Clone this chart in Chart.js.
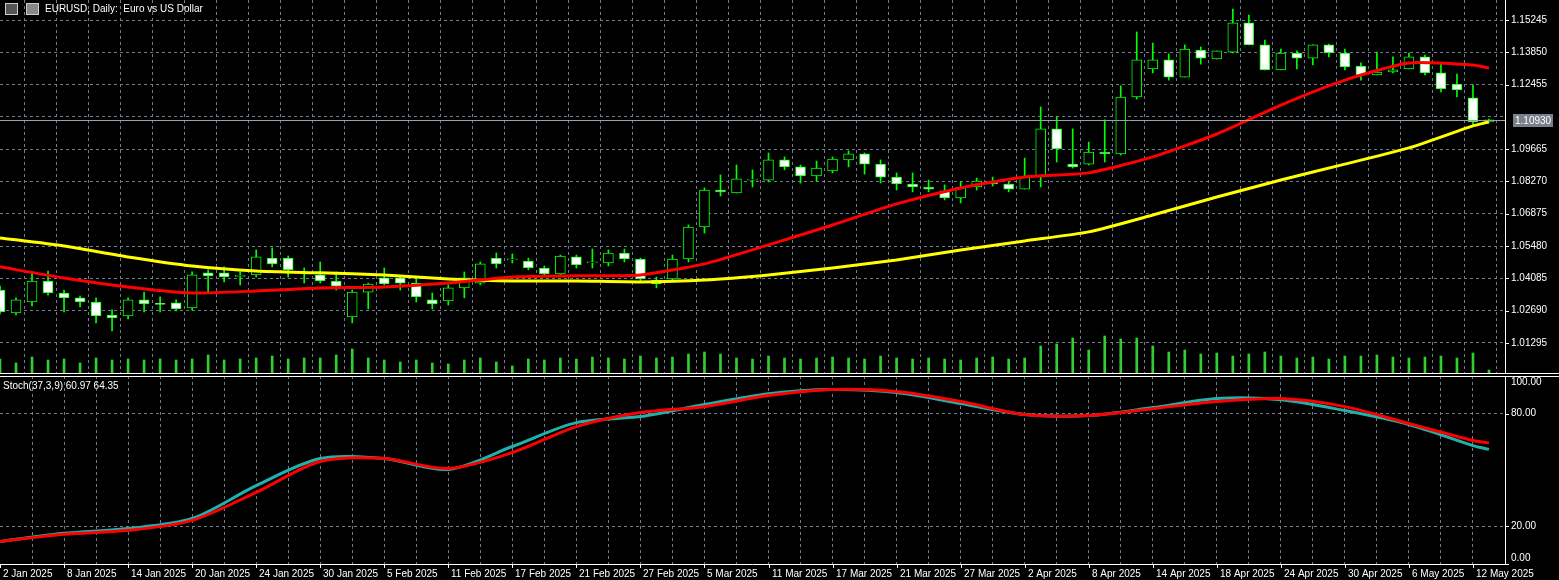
<!DOCTYPE html>
<html>
<head>
<meta charset="utf-8">
<script src="https://cdn.jsdelivr.net/npm/chart.js@4"></script>
<style>
  html, body { margin: 0; padding: 0; background: #000; overflow: hidden; }
  #wrap { position: relative; width: 1559px; height: 580px; background: #000; }
  canvas { position: absolute; left: 0; }
  #main { top: 0; }
  #stoch { top: 376px; }
  .lbl { position: absolute; color: #fff; font: 10px "Liberation Sans", sans-serif; white-space: pre; }
  .ico { position: absolute; top: 3px; width: 11px; height: 10px; border: 1px solid #ccc; background: #555; }
</style>
</head>
<body>
<div id="wrap">
  <canvas id="main" width="1559" height="374"></canvas>
  <canvas id="stoch" width="1559" height="204"></canvas>
  <div class="ico" style="left:5px"></div>
  <div class="ico" style="left:26px;background:#888"></div>
  <div class="lbl" style="left:45px;top:3px">EURUSD, Daily:  Euro vs US Dollar</div>
  <div class="lbl" style="left:3px;top:380px">Stoch(37,3,9) 60.97 64.35</div>
</div>
<script>
// === DATA ===
const OPEN = [1.0358,1.0259,1.0306,1.0397,1.0345,1.0324,1.0306,1.0250,1.0246,1.0315,1.0298,1.0302,1.0280,1.0432,1.0432,1.0417,1.0423,1.0496,1.0496,1.0432,
  1.0423,1.0397,1.0242,1.0349,1.0410,1.0410,1.0388,1.0315,1.0311,1.0367,1.0388,1.0496,1.0488,1.0483,1.0453,1.0427,1.0501,1.0475,1.0475,1.0518,
  1.0492,1.0401,1.0406,1.0492,1.0630,1.0790,1.0777,1.0833,1.0833,1.0920,1.0890,1.0851,1.0872,1.0920,1.0946,1.0902,1.0846,1.0816,1.0803,1.0786,
  1.0756,1.0803,1.0825,1.0816,1.0794,1.0851,1.1054,1.0902,1.0902,1.0954,1.0946,1.1192,1.1313,1.1352,1.1278,1.1395,1.1356,1.1386,1.1512,1.1417,
  1.1309,1.1382,1.1360,1.1417,1.1382,1.1326,1.1287,1.1300,1.1313,1.1365,1.1296,1.1248,1.1188,1.1084];
const HIGH = [1.0375,1.0324,1.0432,1.0440,1.0358,1.0332,1.0324,1.0272,1.0324,1.0349,1.0328,1.0315,1.0436,1.0445,1.0458,1.0436,1.0531,1.0540,1.0505,1.0453,
  1.0479,1.0436,1.0358,1.0388,1.0453,1.0414,1.0410,1.0345,1.0380,1.0436,1.0479,1.0518,1.0514,1.0496,1.0462,1.0509,1.0509,1.0535,1.0531,1.0535,
  1.0496,1.0414,1.0509,1.0639,1.0799,1.0855,1.0898,1.0877,1.0950,1.0933,1.0898,1.0915,1.0933,1.0959,1.0950,1.0920,1.0864,1.0864,1.0833,1.0812,
  1.0825,1.0842,1.0846,1.0825,1.0928,1.1149,1.1106,1.1054,1.0997,1.1093,1.1240,1.1473,1.1425,1.1378,1.1417,1.1408,1.1391,1.1572,1.1546,1.1438,
  1.1399,1.1391,1.1417,1.1421,1.1399,1.1339,1.1386,1.1365,1.1382,1.1373,1.1339,1.1291,1.1244,1.1097];
const LOW = [1.0255,1.0250,1.0289,1.0336,1.0263,1.0285,1.0216,1.0181,1.0233,1.0263,1.0263,1.0268,1.0272,1.0349,1.0393,1.0380,1.0414,1.0458,1.0414,1.0388,
  1.0388,1.0358,1.0216,1.0276,1.0380,1.0358,1.0306,1.0276,1.0293,1.0324,1.0380,1.0453,1.0475,1.0445,1.0419,1.0423,1.0453,1.0453,1.0462,1.0479,
  1.0397,1.0367,1.0393,1.0479,1.0604,1.0764,1.0777,1.0803,1.0825,1.0877,1.0820,1.0829,1.0864,1.0890,1.0859,1.0820,1.0790,1.0782,1.0782,1.0747,
  1.0734,1.0790,1.0807,1.0782,1.0794,1.0803,1.0911,1.0885,1.0898,1.0911,1.0941,1.1183,1.1296,1.1265,1.1278,1.1334,1.1356,1.1382,1.1417,1.1309,
  1.1309,1.1313,1.1330,1.1365,1.1309,1.1265,1.1287,1.1296,1.1313,1.1287,1.1214,1.1192,1.1071,1.1084];
const CLOSE = [1.0263,1.0315,1.0397,1.0345,1.0324,1.0306,1.0246,1.0237,1.0315,1.0298,1.0296,1.0276,1.0423,1.0419,1.0414,1.0419,1.0501,1.0471,1.0445,1.0436,
  1.0397,1.0375,1.0349,1.0384,1.0384,1.0388,1.0328,1.0298,1.0367,1.0410,1.0471,1.0471,1.0489,1.0453,1.0427,1.0505,1.0466,1.0476,1.0518,1.0492,
  1.0406,1.0384,1.0492,1.0630,1.0790,1.0782,1.0838,1.0834,1.0920,1.0890,1.0851,1.0885,1.0924,1.0946,1.0902,1.0846,1.0816,1.0803,1.0794,1.0756,
  1.0803,1.0829,1.0816,1.0794,1.0846,1.1054,1.0967,1.0890,1.0954,1.0946,1.1192,1.1352,1.1352,1.1278,1.1399,1.1360,1.1391,1.1512,1.1417,1.1309,
  1.1382,1.1360,1.1417,1.1382,1.1322,1.1287,1.1300,1.1309,1.1365,1.1296,1.1227,1.1222,1.1084,1.1093];
const VOLUME = [15,11,17,14,15,11,16,14,15,14,15,14,15,19,14,15,16,18,15,16,16,19,25,16,14,12,14,11,10,14,16,12,8,
  15,14,16,15,17,16,15,18,16,17,20,22,20,16,15,18,16,15,16,17,16,15,18,16,15,16,15,14,16,17,
  15,16,28,30,36,24,38,35,36,28,22,24,20,21,18,20,22,18,16,17,15,18,18,19,17,16,17,18,16,21,4];

// moving averages & stochastic, read every 4th bar
const LINE_BARS = [0,4,8,12,16,20,24,28,32,36,40,44,48,52,56,60,64,68,72,76,80,84,88,92,93];
const MA_RED = [1.0458,1.0410,1.0371,1.0345,1.0354,1.0367,1.0371,1.0388,1.0414,1.0419,1.0423,1.0471,1.0553,1.0639,1.0730,1.0799,1.0846,1.0864,1.0933,1.1032,1.1157,1.1265,1.1339,1.1330,1.1317];
const MA_YELLOW = [1.0583,1.0548,1.0501,1.0462,1.0440,1.0432,1.0423,1.0406,1.0397,1.0397,1.0393,1.0401,1.0423,1.0453,1.0488,1.0531,1.0570,1.0609,1.0682,1.0760,1.0833,1.0902,1.0972,1.1067,1.1084];
const STOCH_MAIN = [12.0,16.3,18.9,24.2,41.7,56.1,56.1,50.3,62.5,75.2,78.4,84.8,90.6,92.8,91.2,85.3,79.5,79.0,83.2,88.0,87.4,81.6,74.2,63.0,60.97];
const STOCH_SIGNAL = [12.0,15.8,17.9,23.2,38.1,54.5,56.1,50.8,59.3,73.1,80.6,83.7,89.6,92.8,91.7,86.4,79.5,79.0,82.6,86.4,88.0,83.7,74.7,65.7,64.35];

const PRICE_TICKS = [1.15245,1.13850,1.12455,1.11060,1.09665,1.08270,1.06875,1.05480,1.04085,1.02690,1.01295];
const STOCH_TICKS = [0,20,80,100];
const DATE_BARS = [0,4,8,12,16,20,24,28,32,36,40,44,48,52,56,60,64,68,72,76,80,84,88,92];
const DATE_LABELS = ['2 Jan 2025','8 Jan 2025','14 Jan 2025','20 Jan 2025','24 Jan 2025','30 Jan 2025','5 Feb 2025','11 Feb 2025',
  '17 Feb 2025','21 Feb 2025','27 Feb 2025','5 Mar 2025','11 Mar 2025','17 Mar 2025','21 Mar 2025','27 Mar 2025','2 Apr 2025',
  '8 Apr 2025','14 Apr 2025','18 Apr 2025','24 Apr 2025','30 Apr 2025','6 May 2025','12 May 2025'];
const LAST_PRICE = 1.10930;

// === HELPERS ===
const N = OPEN.length;
const labels = Array.from({ length: N + 1 }, (_, i) => String(i));
const sparse = (vals) => {
  const arr = new Array(N).fill(null);
  LINE_BARS.forEach((b, i) => (arr[b] = vals[i]));
  return arr;
};
const GRID = "#6f7c8a";
const LIME = "#00ff00";
const FONT_CSS = "10px 'Liberation Sans'";
Chart.defaults.devicePixelRatio = 1;
Chart.defaults.animation = false;

const xGrid = {
  display: true,
  offset: false,
  ticks: { display: false, autoSkip: false },
  border: { display: false, dash: [3, 3] },
  grid: {
    drawTicks: false,
    color: (c) => (c.index > 0 && c.index % 2 === 0 ? GRID : "transparent"),
  },
};
const fitRight = (axis) => { axis.width = 54; };

// draw right-axis labels, kept inside the canvas
function drawAxisLabels(chart, ticks, fmt) {
  const { ctx, chartArea: a, scales } = chart;
  ctx.save();
  ctx.fillStyle = "#fff";
  ctx.strokeStyle = "#fff";
  ctx.font = FONT_CSS;
  ctx.textBaseline = "middle";
  ticks.forEach((v) => {
    const txt = fmt(v);
    if (!txt) return;
    const y = scales.y.getPixelForValue(v);
    ctx.beginPath(); ctx.moveTo(a.right, Math.round(y) + 0.5); ctx.lineTo(a.right + 4, Math.round(y) + 0.5); ctx.stroke();
    const ty = Math.min(Math.max(y, 6), chart.height - 22);
    ctx.fillText(txt, a.right + 6, ty);
  });
  ctx.restore();
}

// === MAIN CHART ===
const mainPlugin = {
  id: "mainExtras",
  afterDraw(chart) {
    const { ctx, chartArea: a, scales } = chart;
    drawAxisLabels(chart, PRICE_TICKS, (v) => (v === 1.1106 ? "" : v.toFixed(5)));
    const y = Math.round(scales.y.getPixelForValue(LAST_PRICE));
    ctx.save();
    ctx.strokeStyle = "#9aa3ad";
    ctx.lineWidth = 1;
    ctx.beginPath(); ctx.moveTo(a.left, y + 0.5); ctx.lineTo(a.right, y + 0.5); ctx.stroke();
    ctx.fillStyle = "#7a8089";
    ctx.fillRect(a.right + 8, y - 6, 40, 13);
    ctx.fillStyle = "#fff";
    ctx.font = FONT_CSS;
    ctx.textBaseline = "middle";
    ctx.fillText(LAST_PRICE.toFixed(5), a.right + 10, y + 1);
    ctx.strokeStyle = "#fff";
    ctx.beginPath(); ctx.moveTo(0, chart.height - 0.5); ctx.lineTo(chart.width, chart.height - 0.5); ctx.stroke();
    ctx.restore();
  },
};

new Chart(document.getElementById("main"), {
  type: "bar",
  data: {
    labels,
    datasets: [
      {
        type: "line", data: sparse(MA_RED), borderColor: "#ff0000", borderWidth: 3,
        pointRadius: 0, spanGaps: true, tension: 0.2, order: -2, yAxisID: "y",
      },
      {
        type: "line", data: sparse(MA_YELLOW), borderColor: "#ffff00", borderWidth: 3,
        pointRadius: 0, spanGaps: true, tension: 0.2, order: -1, yAxisID: "y",
      },
      {
        data: OPEN.map((o, i) => [o, CLOSE[i]]),
        backgroundColor: OPEN.map((o, i) => (CLOSE[i] < o ? "#ffffff" : "#000000")),
        borderColor: LIME, borderWidth: 1, borderSkipped: false,
        barThickness: 10, minBarLength: 1, order: 0, yAxisID: "y", grouped: false,
      },
      {
        data: LOW.map((l, i) => [l, HIGH[i]]),
        backgroundColor: LIME, barThickness: 1, order: 1, yAxisID: "y", grouped: false,
      },
      {
        data: VOLUME, backgroundColor: "#32cd32", barThickness: 2, order: 2, yAxisID: "yv", grouped: false,
      },
    ],
  },
  options: {
    responsive: false,
    layout: { padding: 0 },
    plugins: { legend: { display: false }, tooltip: { enabled: false } },
    scales: {
      x: xGrid,
      y: {
        position: "right",
        min: 0.9995, max: 1.1611,
        afterBuildTicks: (axis) => { axis.ticks = PRICE_TICKS.map((v) => ({ value: v })); },
        afterFit: fitRight,
        ticks: { display: false },
        grid: { color: GRID, drawTicks: false },
        border: { color: "#fff", dash: [3, 3] },
      },
      yv: { display: false, min: 0, max: 374 },
    },
  },
  plugins: [mainPlugin],
});

// === STOCHASTIC CHART ===
const stochPlugin = {
  id: "stochExtras",
  afterDraw(chart) {
    const { ctx, chartArea: a, scales } = chart;
    drawAxisLabels(chart, STOCH_TICKS, (v) => v.toFixed(2));
    ctx.save();
    ctx.strokeStyle = "#fff";
    ctx.beginPath(); ctx.moveTo(0, 0.5); ctx.lineTo(chart.width, 0.5); ctx.stroke();
    ctx.beginPath(); ctx.moveTo(a.right + 0.5, 0); ctx.lineTo(a.right + 0.5, a.bottom); ctx.stroke();
    ctx.beginPath(); ctx.moveTo(0, a.bottom + 0.5); ctx.lineTo(a.right, a.bottom + 0.5); ctx.stroke();
    ctx.fillStyle = "#fff";
    ctx.font = FONT_CSS;
    ctx.textBaseline = "alphabetic";
    DATE_BARS.forEach((b, i) => {
      const x = Math.round(scales.x.getPixelForValue(b));
      ctx.beginPath(); ctx.moveTo(x + 0.5, a.bottom); ctx.lineTo(x + 0.5, a.bottom + 4); ctx.stroke();
      ctx.fillText(DATE_LABELS[i], x + 3, a.bottom + 13);
    });
    ctx.restore();
  },
};

new Chart(document.getElementById("stoch"), {
  type: "line",
  data: {
    labels,
    datasets: [
      { data: sparse(STOCH_SIGNAL), borderColor: "#ff0000", borderWidth: 3, pointRadius: 0, spanGaps: true, tension: 0.3 },
      { data: sparse(STOCH_MAIN), borderColor: "#20b2aa", borderWidth: 3, pointRadius: 0, spanGaps: true, tension: 0.3 },
    ],
  },
  options: {
    responsive: false,
    layout: { padding: { top: 0, bottom: 16 } },
    plugins: { legend: { display: false }, tooltip: { enabled: false } },
    scales: {
      x: xGrid,
      y: {
        position: "right",
        min: 0, max: 100,
        afterBuildTicks: (axis) => { axis.ticks = STOCH_TICKS.map((v) => ({ value: v })); },
        afterFit: fitRight,
        ticks: { display: false },
        grid: {
          color: (c) => (c.tick && (c.tick.value === 20 || c.tick.value === 80) ? GRID : "transparent"),
          drawTicks: false,
        },
        border: { color: "#fff", dash: [3, 3] },
      },
    },
  },
  plugins: [stochPlugin],
});
</script>
</body>
</html>
